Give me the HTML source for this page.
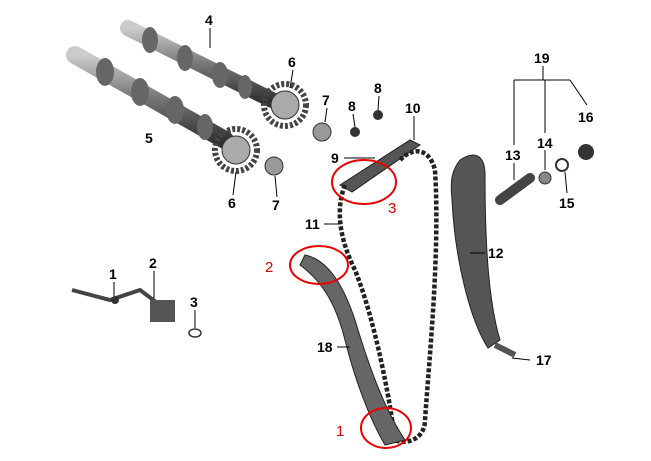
<!DOCTYPE html>
<html><head><style>
html,body{margin:0;padding:0;background:#fff;}
svg{display:block;}
text{font-family:"Liberation Sans",sans-serif;font-weight:bold;font-size:14px;fill:#000;}
.r{fill:#d00;font-weight:normal;font-size:15px;}
</style></head><body>
<svg width="651" height="461" viewBox="0 0 651 461">
<defs>
<linearGradient id="g" x1="0" y1="0" x2="0" y2="1"><stop offset="0" stop-color="#ccc"/><stop offset="0.5" stop-color="#777"/><stop offset="1" stop-color="#333"/></linearGradient>
</defs>
<path d="M128,28 L272,100" stroke="url(#g)" stroke-width="16" stroke-linecap="round"/>
<path d="M75,55 L225,140" stroke="url(#g)" stroke-width="18" stroke-linecap="round"/>
<g fill="#666"><ellipse cx="150" cy="40" rx="8" ry="13"/><ellipse cx="185" cy="58" rx="8" ry="13"/><ellipse cx="220" cy="75" rx="8" ry="13"/><ellipse cx="245" cy="87" rx="7" ry="12"/>
<ellipse cx="105" cy="72" rx="9" ry="14"/><ellipse cx="140" cy="92" rx="9" ry="14"/><ellipse cx="175" cy="110" rx="9" ry="14"/><ellipse cx="205" cy="127" rx="8" ry="13"/></g>
<circle cx="285" cy="105" r="21" fill="none" stroke="#444" stroke-width="6" stroke-dasharray="3 2"/>
<circle cx="285" cy="105" r="14" fill="#aaa" stroke="#333"/>
<circle cx="236" cy="150" r="21" fill="none" stroke="#444" stroke-width="6" stroke-dasharray="3 2"/>
<circle cx="236" cy="150" r="14" fill="#aaa" stroke="#333"/>
<circle cx="322" cy="132" r="9" fill="#999" stroke="#333"/>
<circle cx="274" cy="166" r="9" fill="#999" stroke="#333"/>
<circle cx="355" cy="132" r="5" fill="#333"/><circle cx="378" cy="115" r="5" fill="#333"/>
<path d="M340,185 L410,140 L420,145 L352,192 Z" fill="#555" stroke="#222"/>
<path d="M345,185 C335,210 340,240 355,270 C375,320 390,400 395,440 C405,445 425,440 425,420 C430,350 440,250 435,170 C430,150 415,145 400,160" fill="none" stroke="#222" stroke-width="4.5" stroke-dasharray="4 2"/>
<path d="M305,255 C330,260 345,290 355,320 C370,370 385,410 405,440 L385,445 C370,420 355,380 345,340 C335,300 320,280 300,265 Z" fill="#666" stroke="#222"/>
<path d="M460,160 C475,150 485,155 485,175 C485,240 488,300 500,340 L488,348 C470,320 455,260 452,200 C450,180 452,170 460,160 Z" fill="#555" stroke="#222"/>
<path d="M495,345 L515,355" stroke="#555" stroke-width="6"/>
<path d="M500,200 L530,178" stroke="#444" stroke-width="10" stroke-linecap="round"/>
<circle cx="545" cy="178" r="6" fill="#888" stroke="#333"/>
<circle cx="562" cy="165" r="6" fill="none" stroke="#333" stroke-width="2"/>
<circle cx="586" cy="152" r="8" fill="#333"/>
<path d="M72,290 L110,300 L140,290 L160,305" stroke="#444" stroke-width="4" fill="none"/>
<rect x="150" y="300" width="25" height="22" fill="#555"/>
<circle cx="115" cy="300" r="4" fill="#333"/>
<ellipse cx="195" cy="333" rx="6" ry="4" fill="none" stroke="#333" stroke-width="1.5"/>
<g stroke="#000" stroke-width="1">
<line x1="210" y1="28" x2="210" y2="48"/><line x1="293" y1="70" x2="290" y2="88"/><line x1="327" y1="108" x2="325" y2="122"/>
<line x1="233" y1="195" x2="236" y2="172"/><line x1="277" y1="197" x2="275" y2="176"/><line x1="353" y1="114" x2="355" y2="127"/>
<line x1="379" y1="96" x2="378" y2="110"/><line x1="414" y1="116" x2="414" y2="140"/><line x1="344" y1="158" x2="375" y2="158"/>
<line x1="324" y1="224" x2="340" y2="224"/><line x1="485" y1="253" x2="470" y2="253"/><line x1="530" y1="360" x2="512" y2="358"/>
<line x1="337" y1="347" x2="350" y2="347"/><line x1="114" y1="282" x2="114" y2="296"/><line x1="154" y1="271" x2="154" y2="298"/>
<line x1="195" y1="310" x2="195" y2="328"/><line x1="514" y1="80" x2="570" y2="80"/><line x1="543" y1="66" x2="543" y2="80"/>
<line x1="514" y1="80" x2="514" y2="145"/><line x1="545" y1="80" x2="545" y2="133"/><line x1="570" y1="80" x2="587" y2="105"/>
<line x1="545" y1="150" x2="545" y2="170"/><line x1="567" y1="193" x2="565" y2="172"/><line x1="514" y1="163" x2="514" y2="180"/>
</g>
<text x="205" y="25">4</text><text x="288" y="67">6</text><text x="322" y="105">7</text><text x="145" y="143">5</text>
<text x="348" y="111">8</text><text x="374" y="93">8</text><text x="405" y="113">10</text><text x="331" y="163">9</text>
<text x="228" y="208">6</text><text x="272" y="210">7</text><text x="305" y="229">11</text><text x="488" y="258">12</text>
<text x="536" y="365">17</text><text x="317" y="352">18</text><text x="534" y="63">19</text><text x="505" y="160">13</text>
<text x="537" y="148">14</text><text x="578" y="122">16</text><text x="559" y="208">15</text>
<text x="109" y="279">1</text><text x="149" y="268">2</text><text x="190" y="307">3</text>
<g fill="none" stroke="#e00" stroke-width="2">
<ellipse cx="364" cy="182" rx="32" ry="22"/><ellipse cx="319" cy="265" rx="29" ry="19"/><ellipse cx="386" cy="428" rx="25" ry="20"/>
</g>
<text class="r" x="388" y="213">3</text><text class="r" x="265" y="272">2</text><text class="r" x="336" y="436">1</text>
</svg>
</body></html>
